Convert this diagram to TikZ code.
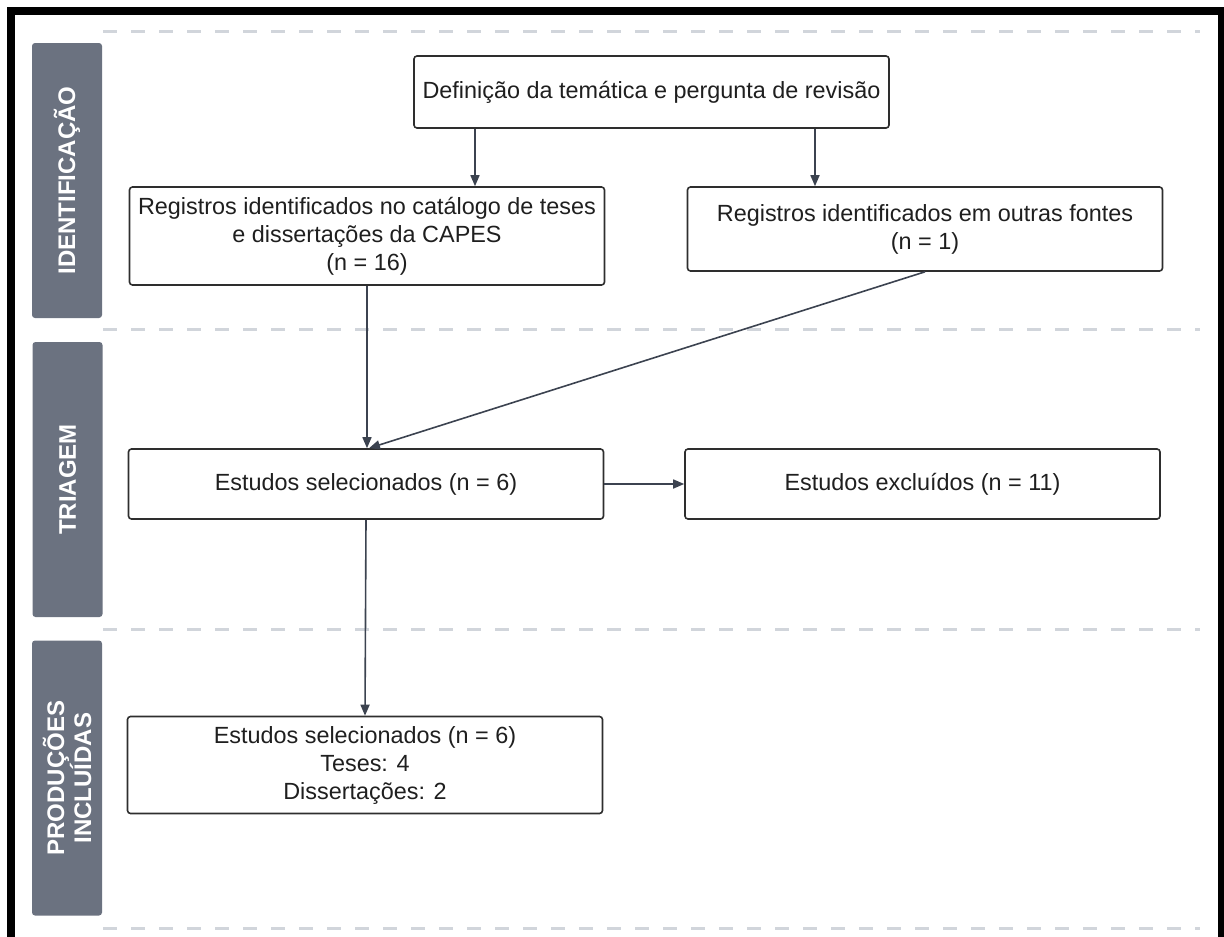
\documentclass[tikz,border=0pt]{standalone}
\usepackage{fontspec}
\setmainfont{Liberation Sans}
\usetikzlibrary{arrows.meta}

\definecolor{lanegray}{HTML}{6B7280}
\definecolor{boxline}{HTML}{2E2E2E}
\definecolor{textdark}{HTML}{1F1F1F}
\definecolor{arrowgray}{HTML}{3C4350}
\definecolor{sepgray}{HTML}{D1D5DB}

\begin{document}
\begin{tikzpicture}[x=1pt, y=-1pt,
  box/.style={draw=boxline, line width=1.6pt, rounded corners=3pt, fill=white,
    text=textdark, align=center, inner sep=0pt, minimum width=475pt,
    font=\fontsize{23.4}{28}\selectfont},
  lane/.style={fill=lanegray, rounded corners=3pt, rotate=90, inner sep=0pt,
    minimum width=275pt, minimum height=70pt, text=white, align=center,
    font=\fontsize{24}{27}\selectfont\bfseries},
  flow/.style={draw=arrowgray, line width=1.6pt, -{Triangle[length=11pt,width=9pt]}},
  lanesep/.style={draw=sepgray, line width=3pt, dash pattern=on 14pt off 14pt}]
  \useasboundingbox (0,0) rectangle (1224,937);

  % separators and frame
  \foreach \y in {31,329,629,928}
    \draw[lanesep] (103,\y) -- (1200,\y);
  \fill (7,7) rectangle (1224,15);
  \fill (7,7) rectangle (15,937);
  \fill (1218,7) rectangle (1224,937);

  % lanes
  \node[lane] (ident) at (67,180.5) {IDENTIFICAÇÃO};
  \node[lane] (triag) at (67.5,479.5) {TRIAGEM};
  \node[lane] (prod) at (67,778) {PRODUÇÕES\\INCLUÍDAS};

  % boxes
  \node[box, minimum height=72pt] (topic) at (651.5,92) {Definição da temática e pergunta de revisão};
  \node[box, minimum height=98pt] (capes) at (367,236) {Registros identificados no catálogo de teses\\e dissertações da CAPES\\(n = 16)};
  \node[box, minimum height=84pt] (other) at (925,229) {Registros identificados em outras fontes\\(n = 1)};
  \node[box, minimum height=70pt] (selec) at (366,484) {Estudos selecionados (n = 6)};
  \node[box, minimum height=70pt] (excl) at (922.5,484) {Estudos excluídos (n = 11)};
  \node[box, minimum height=97pt] (incl) at (365,765) {Estudos selecionados (n = 6)\\Teses: 4\\Dissertações: 2};

  % arrows
  \draw[flow] (topic.south -| 475,0) -- (capes.north -| 475,0);
  \draw[flow] (topic.south -| 815,0) -- (other.north -| 815,0);
  \draw[flow] (capes.south) -- (capes.south |- selec.north);
  \draw[flow] (other.south) -- ([xshift=3pt]selec.north);
  \draw[flow] (selec.east) -- (excl.west);
  \draw[flow] (selec.south) -- (incl.north);
\end{tikzpicture}
\end{document}
